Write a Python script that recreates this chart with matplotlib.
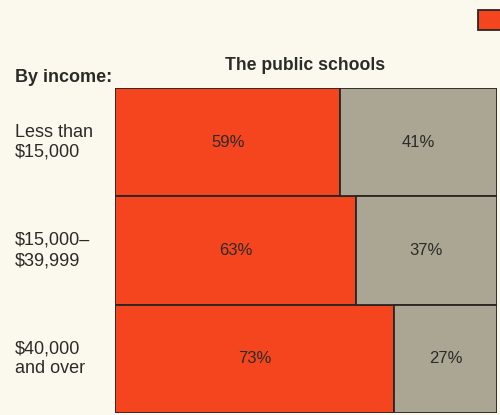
import matplotlib.pyplot as plt
from matplotlib.patches import Rectangle

plt.rcParams['font.family'] = ['Liberation Sans', 'DejaVu Sans']

# share of each income group, public schools vs the rest
income_groups = ['Less than\n$15,000', '$15,000–\n$39,999', '$40,000\nand over']
public_pct = [59, 63, 73]
other_pct = [41, 37, 27]

RED = '#f4451f'
GRAY = '#aaa693'
BG = '#fbf9ee'
INK = '#2b2b28'
EDGE = '#2a2622'

W, H = 500, 415
fig = plt.figure(figsize=(W / 100, H / 100), dpi=100, facecolor=BG)

# bar panel in pixel coordinates
x0, x1, y_top, y_bot = 115, 497, 88, 413
ax = fig.add_axes([x0 / W, 1 - y_bot / H, (x1 - x0) / W, (y_bot - y_top) / H])
ax.set_facecolor(BG)

rows = list(range(len(income_groups)))
ax.barh(rows, public_pct, height=1.0, color=RED, edgecolor=EDGE, linewidth=1.3)
ax.barh(rows, other_pct, left=public_pct, height=1.0, color=GRAY,
        edgecolor=EDGE, linewidth=1.3)
ax.set_xlim(0, 100)
ax.set_ylim(len(rows) - 0.5, -0.5)
ax.axis('off')

label_x = 15 / W  # row labels sit at the left margin
for i, (p, o) in enumerate(zip(public_pct, other_pct)):
    ax.text(p / 2, i, f'{p}%', ha='center', va='center', fontsize=12, color=INK)
    ax.text(p + o / 2, i, f'{o}%', ha='center', va='center', fontsize=12, color=INK)
    y_fig = 1 - (y_top + (i + 0.5) * (y_bot - y_top) / len(rows)) / H
    fig.text(label_x, y_fig, income_groups[i], ha='left', va='center',
             fontsize=13, color=INK, linespacing=1.25)

fig.text(15 / W, 1 - 77 / H, 'By income:', ha='left', va='center',
         fontsize=13, fontweight='bold', color=INK)
fig.text(305 / W, 1 - 65 / H, 'The public schools', ha='center', va='center',
         fontsize=12.7, fontweight='bold', color=INK)

# legend swatch, runs off the right edge
fig.patches.append(Rectangle((478 / W, 1 - 30 / H), 40 / W, 20 / H,
                             transform=fig.transFigure, facecolor=RED,
                             edgecolor=EDGE, linewidth=1.3))

fig.savefig('out.png', dpi=100, facecolor=BG)
